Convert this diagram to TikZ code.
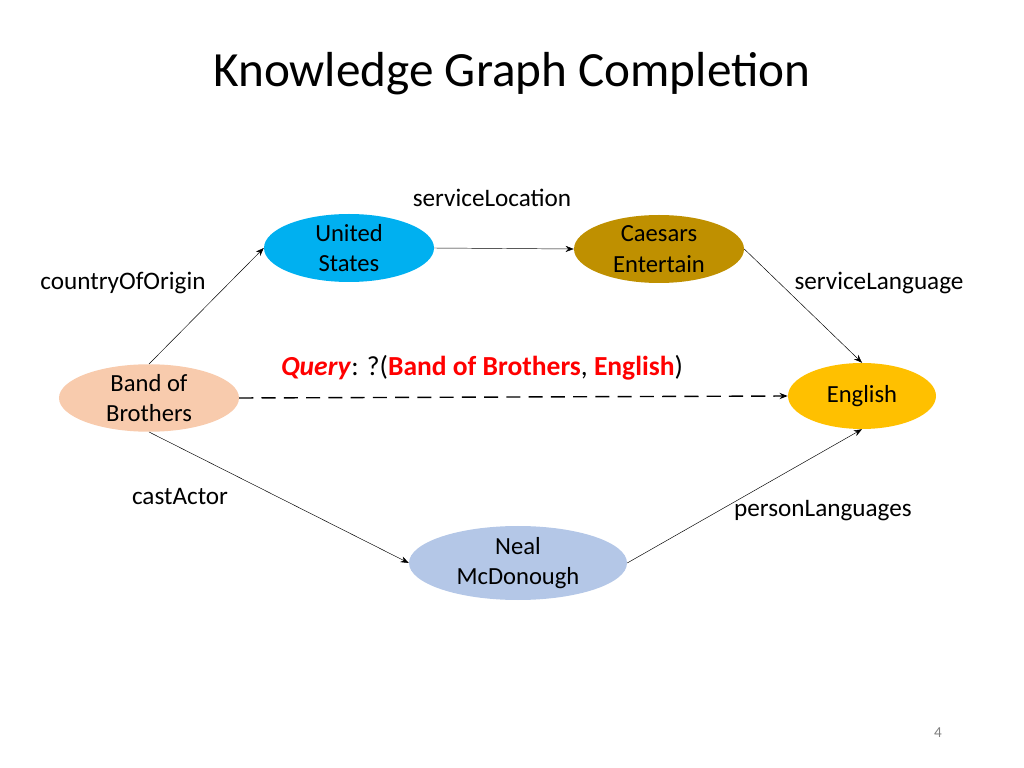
\documentclass[tikz,border=0pt]{standalone}
\usepackage{fontspec}
\setmainfont{Carlito}
\usetikzlibrary{shapes.geometric,arrows.meta}
\definecolor{usblue}{HTML}{00B0F0}
\definecolor{caesargold}{HTML}{BF9000}
\definecolor{bandpeach}{HTML}{F8CBAD}
\definecolor{englishgold}{HTML}{FFC000}
\definecolor{nealblue}{HTML}{B4C7E7}
\definecolor{queryred}{HTML}{FF0000}

\tikzset{
  entity/.style={ellipse,inner sep=0pt,align=center,font=\fontsize{21}{26}\selectfont},
  rel/.style={font=\fontsize{21.5}{24}\selectfont},
  link/.style={-{Stealth[length=7pt]},thin}
}

\begin{document}
\begin{tikzpicture}[x=0.03cm,y=-0.03cm]
\useasboundingbox (0,0) rectangle (1024,768);
\node[font=\fontsize{42}{48}\selectfont] (title) at (512,74) {Knowledge Graph Completion};
% entities
\node[entity,fill=usblue,minimum width=5.1cm,minimum height=2.04cm] (us) at (349,248) {United\\States};
\node[entity,fill=caesargold,minimum width=5.1cm,minimum height=2.04cm] (caesars) at (659,249) {Caesars\\Entertain};
\node[entity,fill=bandpeach,minimum width=5.4cm,minimum height=1.98cm] (band) at (149,398) {Band of\\Brothers};
\node[entity,fill=englishgold,minimum width=4.44cm,minimum height=1.98cm] (english) at (862,396) {English};
\node[entity,fill=nealblue,minimum width=6.54cm,minimum height=2.22cm] (neal) at (518,563) {Neal\\McDonough};
% relations
\node[rel] (serviceloc) at (492,198) {serviceLocation};
\node[rel] (origin) at (123,283) {countryOfOrigin};
\node[rel] (servicelang) at (879,283) {serviceLanguage};
\node[rel] (cast) at (180,497) {castActor};
\node[rel] (personlang) at (823,511) {personLanguages};
\node[font=\fontsize{23.5}{26}\selectfont] (query) at (482,368) {\textcolor{queryred}{\textbf{\textit{Query}}}: ?(\textcolor{queryred}{\textbf{Band of Brothers}}, \textcolor{queryred}{\textbf{English}})};
\node[font=\fontsize{13}{15}\selectfont,text=gray] (page) at (938,733) {4};
% edges
\draw[link] (band.north) -- (us.west);
\draw[link] (us.east) -- (caesars.west);
\draw[link] (caesars.east) -- (english.north);
\draw[link] (band.south) -- (neal.west);
\draw[link] (neal.east) -- (english.south);
\draw[link,very thick,dash pattern=on 12pt off 7pt] (band.east) -- (english.west);
\end{tikzpicture}
\end{document}
